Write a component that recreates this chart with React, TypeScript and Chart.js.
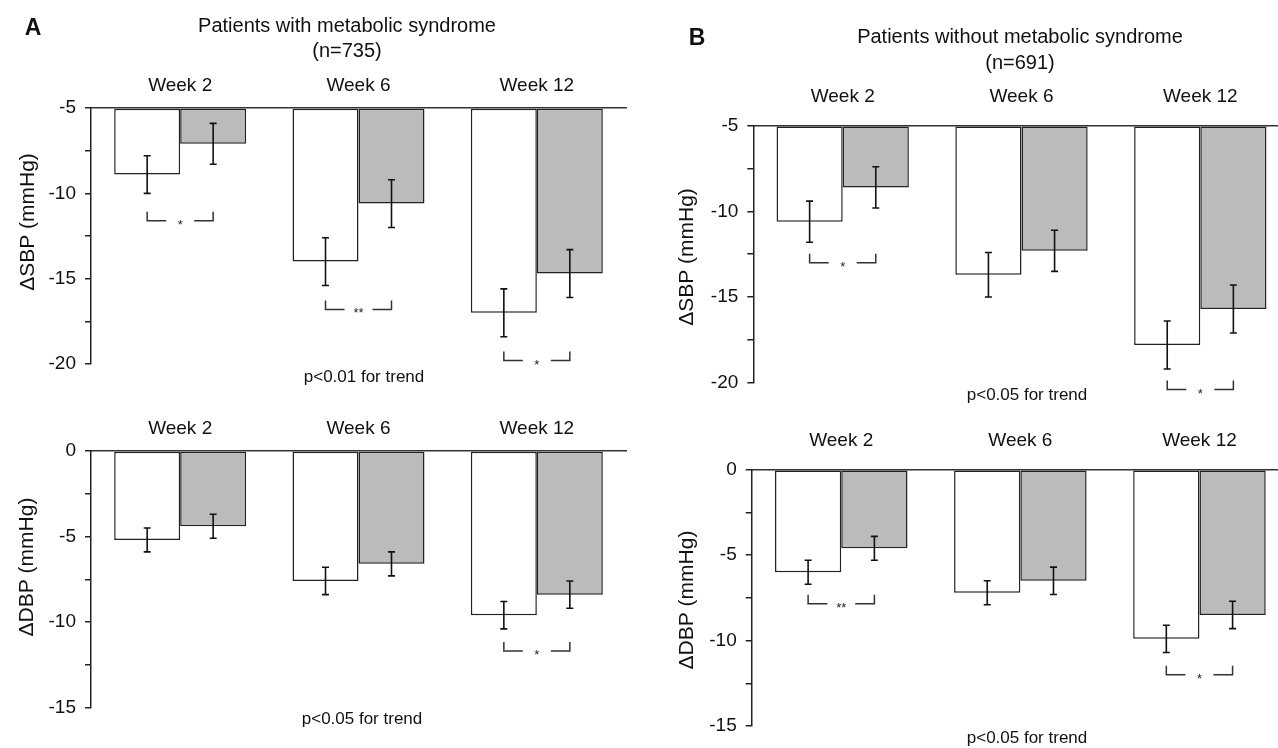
import React, { useEffect, useRef } from "react";
import { Chart, registerables } from "chart.js";

Chart.register(...registerables);

const FONT = '"Liberation Sans", Arial, Helvetica, sans-serif';
Chart.defaults.font.family = FONT;

// ---------- data ----------
const weeks = ["Week 2", "Week 6", "Week 12"];

// Panel A: patients with metabolic syndrome (n=735)
const aSbpWhite = [-8.9, -14.0, -17.0];
const aSbpWhiteErr = [1.1, 1.4, 1.4];
const aSbpGray = [-7.1, -10.6, -14.7];
const aSbpGrayErr = [1.2, 1.4, 1.4];
const aSbpBracket = [-11.6, -16.8, -19.8];
const aSbpSig = ["*", "**", "*"];

const aDbpWhite = [-5.2, -7.6, -9.6];
const aDbpWhiteErr = [0.7, 0.8, 0.8];
const aDbpGray = [-4.4, -6.6, -8.4];
const aDbpGrayErr = [0.7, 0.7, 0.8];
const aDbpBracket: (number | null)[] = [null, null, -11.7];
const aDbpSig = ["", "", "*"];

// Panel B: patients without metabolic syndrome (n=691)
const bSbpWhite = [-10.6, -13.7, -17.8];
const bSbpWhiteErr = [1.2, 1.3, 1.4];
const bSbpGray = [-8.6, -12.3, -15.7];
const bSbpGrayErr = [1.2, 1.2, 1.4];
const bSbpBracket: (number | null)[] = [-13.0, null, -20.4];
const bSbpSig = ["*", "", "*"];

const bDbpWhite = [-6.0, -7.2, -9.9];
const bDbpWhiteErr = [0.7, 0.7, 0.8];
const bDbpGray = [-4.6, -6.5, -8.5];
const bDbpGrayErr = [0.7, 0.8, 0.8];
const bDbpBracket: (number | null)[] = [-7.85, null, -12.0];
const bDbpSig = ["**", "", "*"];

const sbpRange = [-20, -5];
const dbpRange = [-15, 0];
const tickStep = 2.5;
const labelStep = 5;

// ---------- layout ----------
type Box = { left: number; top: number; width: number; height: number };
type Area = { left: number; right: number; top: number; bottom: number };
type Panel = {
  id: string;
  canvas: Box;
  area: Area;
  range: number[];
  base: number;
  white: number[];
  whiteErr: number[];
  gray: number[];
  grayErr: number[];
  bracket: (number | null)[];
  sig: string[];
  yTitle: string;
  yTitlePos: [number, number];
  trend: string;
  trendPos: [number, number];
  weekPad: number;
  heading?: { letter: string; letterPos: [number, number]; lines: string[]; x: number; ys: number[] };
};

const panels: Panel[] = [
  {
    id: "a-sbp",
    canvas: { left: 0, top: 0, width: 640, height: 395 },
    area: { left: 91, right: 626, top: 108, bottom: 364 },
    range: sbpRange,
    base: -5,
    white: aSbpWhite,
    whiteErr: aSbpWhiteErr,
    gray: aSbpGray,
    grayErr: aSbpGrayErr,
    bracket: aSbpBracket,
    sig: aSbpSig,
    yTitle: "\u0394SBP (mmHg)",
    yTitlePos: [28, 222],
    trend: "p<0.01 for trend",
    trendPos: [364, 377],
    weekPad: 10.6,
    heading: {
      letter: "A",
      letterPos: [33, 29],
      lines: ["Patients with metabolic syndrome", "(n=735)"],
      x: 347,
      ys: [26, 51],
    },
  },
  {
    id: "a-dbp",
    canvas: { left: 0, top: 395, width: 640, height: 353 },
    area: { left: 91, right: 626, top: 451, bottom: 707.5 },
    range: dbpRange,
    base: 0,
    white: aDbpWhite,
    whiteErr: aDbpWhiteErr,
    gray: aDbpGray,
    grayErr: aDbpGrayErr,
    bracket: aDbpBracket,
    sig: aDbpSig,
    yTitle: "\u0394DBP (mmHg)",
    yTitlePos: [27, 567],
    trend: "p<0.05 for trend",
    trendPos: [362, 719],
    weekPad: 10.6,
  },
  {
    id: "b-sbp",
    canvas: { left: 640, top: 0, width: 670, height: 410 },
    area: { left: 753.3, right: 1289.7, top: 125.7, bottom: 382.7 },
    range: sbpRange,
    base: -5,
    white: bSbpWhite,
    whiteErr: bSbpWhiteErr,
    gray: bSbpGray,
    grayErr: bSbpGrayErr,
    bracket: bSbpBracket,
    sig: bSbpSig,
    yTitle: "\u0394SBP (mmHg)",
    yTitlePos: [687, 257],
    trend: "p<0.05 for trend",
    trendPos: [1027, 395],
    weekPad: 18,
    heading: {
      letter: "B",
      letterPos: [697, 39],
      lines: ["Patients without metabolic syndrome", "(n=691)"],
      x: 1020,
      ys: [37, 63],
    },
  },
  {
    id: "b-dbp",
    canvas: { left: 640, top: 410, width: 670, height: 338 },
    area: { left: 751.7, right: 1289, top: 469.7, bottom: 726 },
    range: dbpRange,
    base: 0,
    white: bDbpWhite,
    whiteErr: bDbpWhiteErr,
    gray: bDbpGray,
    grayErr: bDbpGrayErr,
    bracket: bDbpBracket,
    sig: bDbpSig,
    yTitle: "\u0394DBP (mmHg)",
    yTitlePos: [687, 600],
    trend: "p<0.05 for trend",
    trendPos: [1027, 738],
    weekPad: 18,
  },
];

function decorPlugin(p: Panel) {
  const ox = p.canvas.left;
  const oy = p.canvas.top;
  return {
    id: "decor-" + p.id,
    afterDatasetsDraw(chart: any) {
      const ctx: CanvasRenderingContext2D = chart.ctx;
      const ys = chart.scales.y;
      ctx.save();
      // error bars
      const errs = [p.whiteErr, p.grayErr];
      chart.data.datasets.forEach((ds: any, i: number) => {
        const meta = chart.getDatasetMeta(i);
        meta.data.forEach((el: any, j: number) => {
          const v = ds.data[j] as number;
          const e = errs[i][j];
          const yHi = ys.getPixelForValue(v + e);
          const yLo = ys.getPixelForValue(v - e);
          const x = el.x;
          ctx.strokeStyle = "#111";
          ctx.lineWidth = 1.6;
          ctx.beginPath();
          ctx.moveTo(x, yHi);
          ctx.lineTo(x, yLo);
          ctx.moveTo(x - 3.5, yHi);
          ctx.lineTo(x + 3.5, yHi);
          ctx.moveTo(x - 3.5, yLo);
          ctx.lineTo(x + 3.5, yLo);
          ctx.stroke();
        });
      });
      // significance brackets
      const m0 = chart.getDatasetMeta(0);
      const m1 = chart.getDatasetMeta(1);
      p.bracket.forEach((lvl, j) => {
        if (lvl === null) return;
        const x1 = m0.data[j].x;
        const x2 = m1.data[j].x;
        const y = ys.getPixelForValue(lvl);
        const mid = (x1 + x2) / 2;
        const gap = 14;
        ctx.strokeStyle = "#333";
        ctx.lineWidth = 1.5;
        ctx.beginPath();
        ctx.moveTo(x1, y - 9);
        ctx.lineTo(x1, y);
        ctx.lineTo(mid - gap, y);
        ctx.moveTo(mid + gap, y);
        ctx.lineTo(x2, y);
        ctx.lineTo(x2, y - 9);
        ctx.stroke();
        ctx.fillStyle = "#222";
        ctx.font = "13px " + FONT;
        ctx.textAlign = "center";
        ctx.textBaseline = "alphabetic";
        ctx.fillText(p.sig[j], mid, y + 8);
      });
      ctx.restore();
    },
    afterDraw(chart: any) {
      const ctx: CanvasRenderingContext2D = chart.ctx;
      ctx.save();
      ctx.fillStyle = "#111";
      ctx.textAlign = "center";
      ctx.textBaseline = "middle";
      // trend text
      ctx.font = "17px " + FONT;
      ctx.fillText(p.trend, p.trendPos[0] - ox, p.trendPos[1] - oy);
      // y axis title
      ctx.save();
      ctx.translate(p.yTitlePos[0] - ox, p.yTitlePos[1] - oy);
      ctx.rotate(-Math.PI / 2);
      ctx.font = "21px " + FONT;
      ctx.fillText(p.yTitle, 0, 0);
      ctx.restore();
      // heading
      if (p.heading) {
        const h = p.heading;
        ctx.font = "20px " + FONT;
        h.lines.forEach((t, k) => ctx.fillText(t, h.x - ox, h.ys[k] - oy));
        ctx.font = "bold 23px " + FONT;
        ctx.fillText(h.letter, h.letterPos[0] - ox, h.letterPos[1] - oy);
      }
      ctx.restore();
    },
  };
}

function PanelChart({ p }: { p: Panel }) {
  const ref = useRef<HTMLCanvasElement | null>(null);
  useEffect(() => {
    if (!ref.current) return;
    const barCommon = {
      borderColor: "#222",
      borderWidth: 1.5,
      borderSkipped: false,
      base: p.base,
      categoryPercentage: 0.74,
      barPercentage: 1,
    };
    const chart = new Chart(ref.current, {
      type: "bar",
      data: {
        labels: weeks,
        datasets: [
          { ...barCommon, data: p.white, backgroundColor: "#ffffff" },
          { ...barCommon, data: p.gray, backgroundColor: "#bbbbbb" },
        ],
      } as any,
      options: {
        responsive: false,
        animation: false,
        events: [],
        layout: {
          padding: {
            left: 0,
            top: 0,
            right: p.canvas.width - (p.area.right - p.canvas.left),
            bottom: p.canvas.height - (p.area.bottom - p.canvas.top),
          },
        },
        plugins: {
          legend: { display: false },
          tooltip: { enabled: false },
          title: { display: false },
        },
        scales: {
          x: {
            type: "category",
            position: "top",
            offset: true,
            grid: { display: false, drawTicks: false },
            border: { display: true, color: "#333", width: 1.5 },
            ticks: {
              color: "#111",
              font: { size: 19, family: FONT },
              padding: p.weekPad,
              autoSkip: false,
              maxRotation: 0,
            },
            afterFit: (s: any) => {
              s.height = p.area.top - p.canvas.top;
            },
          },
          y: {
            type: "linear",
            position: "left",
            min: p.range[0],
            max: p.range[1],
            grid: {
              drawOnChartArea: false,
              drawTicks: true,
              tickLength: 6,
              color: "#222",
              lineWidth: 1.5,
            },
            border: { display: true, color: "#222", width: 1.5 },
            ticks: {
              stepSize: tickStep,
              autoSkip: false,
              color: "#111",
              font: { size: 19, family: FONT },
              padding: 9,
              callback: (v: any) =>
                Math.abs(Number(v) % labelStep) < 1e-6 ? String(v) : "",
            },
            afterFit: (s: any) => {
              s.width = p.area.left - p.canvas.left;
            },
          },
        },
      } as any,
      plugins: [decorPlugin(p)],
    });
    return () => chart.destroy();
  }, [p]);
  return (
    <canvas
      ref={ref}
      width={p.canvas.width}
      height={p.canvas.height}
      style={{
        position: "absolute",
        left: p.canvas.left,
        top: p.canvas.top,
        width: p.canvas.width,
        height: p.canvas.height,
      }}
    />
  );
}

export default function App() {
  return (
    <div
      style={{
        position: "fixed",
        left: 0,
        top: 0,
        width: 1278,
        height: 748,
        overflow: "hidden",
        background: "#ffffff",
      }}
    >
      {panels.map((p) => (
        <PanelChart key={p.id} p={p} />
      ))}
    </div>
  );
}
